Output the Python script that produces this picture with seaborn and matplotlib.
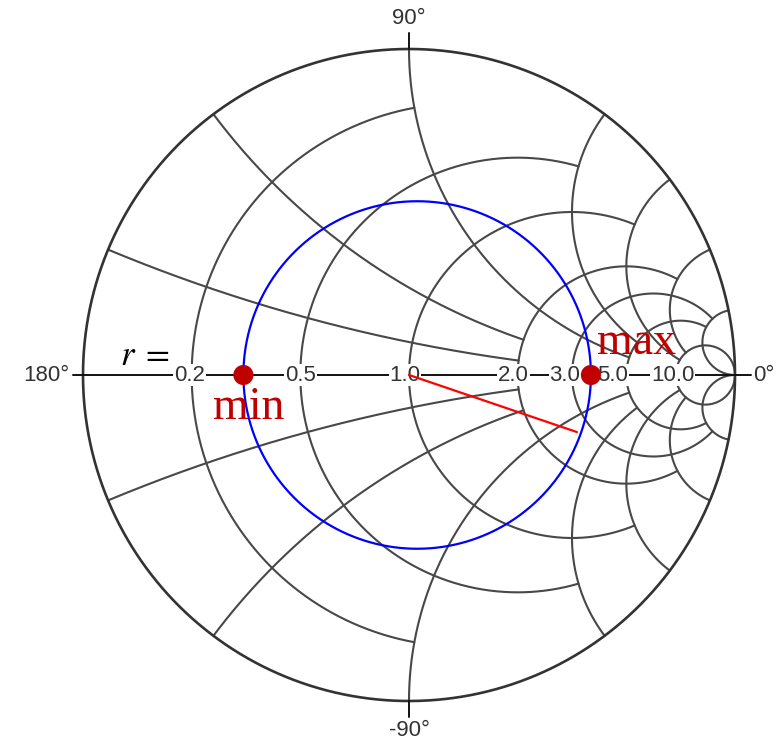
import numpy as np
import pandas as pd
import matplotlib
matplotlib.use("Agg")
import matplotlib.pyplot as plt
import seaborn as sns

# ---- data ----
r_values = [0.2, 0.5, 1.0, 2.0, 3.0, 5.0, 10.0]
r_labels = ["0.2", "0.5", "1.0", "2.0", "3.0", "5.0", "10.0"]
r_xmax = [1, 2, 3, 5, 10, 10, np.inf]          # resistance circle drawn for |x| <= r_xmax
x_values = [0.2, 0.5, 1.0, 2.0, 3.0, 5.0, 10.0]
x_rmax = [2, 2, 5, 5, 10, 10, np.inf]          # reactance arc drawn for r <= x_rmax
angle_labels = ["0°", "90°", "180°", "-90°"]
vswr_center = 0.025
vswr_radius = 0.533
min_gamma = -0.508
max_gamma = 0.558
red_end = (0.515, -0.175)

# ---- style ----
label_shift_px = [-2, 0, -4, -4, -7, -14, -3]

sns.set_theme(style="white")
plt.rcParams["font.family"] = ["Liberation Sans", "DejaVu Sans"]
plt.rcParams["mathtext.fontset"] = "stix"

W, H = 779, 741
cx_px, cy_px, scale = 409, 375, 326.0
fig = plt.figure(figsize=(W / 100, H / 100), dpi=100)
ax = fig.add_axes([0, 0, 1, 1])
ax.set_xlim(-cx_px / scale, (W - cx_px) / scale)
ax.set_ylim(-(H - cy_px) / scale, cy_px / scale)
ax.axis("off")


def gam(z):
    return (z - 1) / (z + 1)


def draw(df, **kw):
    sns.lineplot(data=df, x="gx", y="gy", units="seg", estimator=None, sort=False,
                 ax=ax, legend=False, **kw)


rows = []
sid = 0
eps = 1e-7
for r, xm in zip(r_values, r_xmax):
    lim = np.pi / 2 - eps if np.isinf(xm) else np.arctan(xm)
    u = np.linspace(-lim, lim, 800)
    g = gam(r + 1j * np.tan(u))
    rows += [(a, b, sid) for a, b in zip(g.real, g.imag)]
    sid += 1
for xv, rm in zip(x_values, x_rmax):
    lim = np.pi / 2 - eps if np.isinf(rm) else np.arctan(rm)
    u = np.linspace(0, lim, 800)
    for sgn in (1, -1):
        g = gam(np.tan(u) + 1j * sgn * xv)
        rows += [(a, b, sid) for a, b in zip(g.real, g.imag)]
        sid += 1
grid = pd.DataFrame(rows, columns=["gx", "gy", "seg"])
draw(grid, color="#484848", lw=1.5)

# outer circle
t = np.linspace(0, 2 * np.pi, 720)
outer = pd.DataFrame({"gx": np.cos(t), "gy": np.sin(t), "seg": 0})
draw(outer, color="#333333", lw=1.9)

# horizontal axis and top/bottom ticks
axis_df = pd.DataFrame({"gx": [-1.03, 1.05, 0, 0, 0, 0],
                        "gy": [0, 0, 1.0, 1.05, -1.0, -1.05],
                        "seg": [0, 0, 1, 1, 2, 2]})
draw(axis_df, color="#111111", lw=1.4)

# r labels on the axis
for r, lab, sh in zip(r_values, r_labels, label_shift_px):
    ax.text((r - 1) / (r + 1) + sh / scale, 0, lab, ha="center", va="center", fontsize=16,
            color="#333333", bbox=dict(fc="white", ec="none", pad=0.6), zorder=5)

# angle labels
ax.text(1.055, 0, angle_labels[0], ha="left", va="center", fontsize=16, color="#333333")
ax.text(0.0, 1.095, angle_labels[1], ha="center", va="center", fontsize=16, color="#333333")
ax.text(-1.04, 0, angle_labels[2], ha="right", va="center", fontsize=16, color="#333333")
ax.text(0.0, -1.09, angle_labels[3], ha="center", va="center", fontsize=16, color="#333333")

# VSWR circle
vs = pd.DataFrame({"gx": vswr_center + vswr_radius * np.cos(t),
                   "gy": vswr_radius * np.sin(t), "seg": 0})
draw(vs, color="#0000ff", lw=1.6, zorder=6)

# red radius line
rl = pd.DataFrame({"gx": [0, red_end[0]], "gy": [0, red_end[1]], "seg": 0})
draw(rl, color="#ff0000", lw=1.6, zorder=6)

# min / max points
pts = pd.DataFrame({"gx": [min_gamma, max_gamma], "gy": [0, 0]})
sns.scatterplot(data=pts, x="gx", y="gy", s=210, color="#c00000", edgecolor="none",
                ax=ax, zorder=7, legend=False)

ax.text(min_gamma + 0.015, -0.035, "min", ha="center", va="top", fontsize=33,
        family="Liberation Serif", color="#c00000", zorder=8)
ax.text(max_gamma + 0.14, 0.035, "max", ha="center", va="bottom", fontsize=33,
        family="Liberation Serif", color="#c00000", zorder=8)
ax.text(-0.81, 0.06, r"$r\;=$", ha="center", va="center", fontsize=25, color="black", zorder=8)

fig.savefig("out.png", dpi=100)
